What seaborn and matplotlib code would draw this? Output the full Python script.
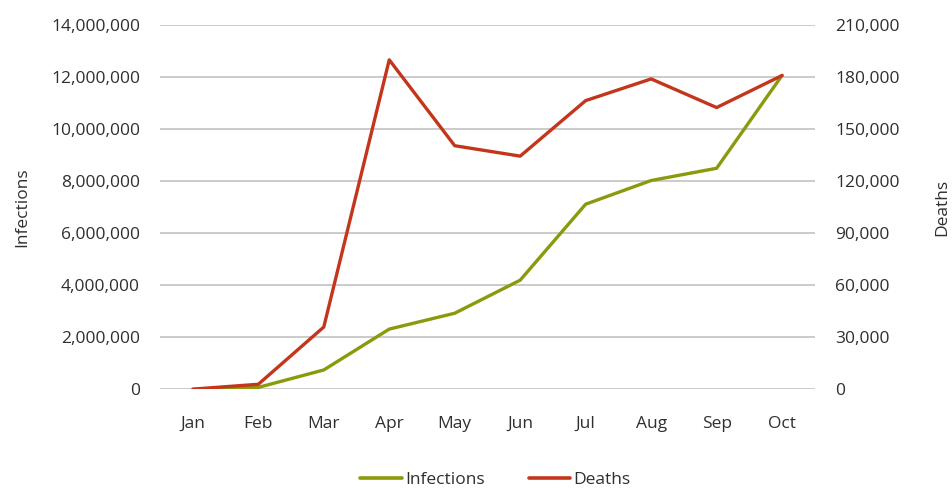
import matplotlib
matplotlib.use("Agg")
import matplotlib.pyplot as plt
from matplotlib.ticker import FuncFormatter
from matplotlib.lines import Line2D
import seaborn as sns
import pandas as pd

months = ["Jan", "Feb", "Mar", "Apr", "May", "Jun", "Jul", "Aug", "Sep", "Oct"]
infections = [0, 80_000, 750_000, 2_320_000, 2_930_000, 4_200_000,
              7_120_000, 8_030_000, 8_500_000, 12_070_000]
deaths = [200, 3_000, 36_000, 190_000, 140_500, 134_500,
          166_500, 179_000, 162_500, 181_000]

INF_COLOR = "#8a9a0c"
DEA_COLOR = "#c3361c"
TEXT = "#2f2f2f"
FS = 12.5

sns.set_theme(style="white")
plt.rcParams["font.family"] = ["Open Sans", "DejaVu Sans"]

df = pd.DataFrame({"month": months, "infections": infections, "deaths": deaths})

fig = plt.figure(figsize=(9.53, 4.93), dpi=100)
ax = fig.add_axes([0.168, 0.21, 0.687, 0.739])
ax2 = ax.twinx()

sns.lineplot(data=df, x="month", y="infections", ax=ax, color=INF_COLOR,
             linewidth=2.4, sort=False, zorder=3)
sns.lineplot(data=df, x="month", y="deaths", ax=ax2, color=DEA_COLOR,
             linewidth=2.4, sort=False, zorder=3)

ax.set_ylim(0, 14_000_000)
ax.set_yticks(range(0, 14_000_001, 2_000_000))
ax2.set_ylim(0, 210_000)
ax2.set_yticks(range(0, 210_001, 30_000))
ax.set_xlim(-0.5, len(months) - 0.5)

fmt = FuncFormatter(lambda v, p: f"{int(v):,}")
ax.yaxis.set_major_formatter(fmt)
ax2.yaxis.set_major_formatter(fmt)

ax.grid(axis="y", color="#bdbdbd", linewidth=1.1)
ax.set_axisbelow(True)
for a in (ax, ax2):
    for s in a.spines.values():
        s.set_visible(False)
    a.tick_params(length=0, colors=TEXT, labelsize=FS)
ax.tick_params(axis="y", pad=14.5)
ax2.tick_params(axis="y", pad=14.5)
ax.tick_params(axis="x", pad=19)

ax.set_xlabel("")
ax.set_ylabel("Infections", color=TEXT, fontsize=FS, labelpad=15)
ax2.set_ylabel("Deaths", color=TEXT, fontsize=FS, labelpad=25, rotation=90)

handles = [Line2D([], [], color=INF_COLOR, linewidth=2.6),
           Line2D([], [], color=DEA_COLOR, linewidth=2.6)]
fig.legend(handles, ["Infections", "Deaths"], loc="center",
           bbox_to_anchor=(0.52, 0.027), ncol=2, frameon=False,
           fontsize=FS, handlelength=2.4, handletextpad=0.2,
           columnspacing=2.5, labelcolor=TEXT)

fig.savefig("out.png", dpi=100, facecolor="white")
